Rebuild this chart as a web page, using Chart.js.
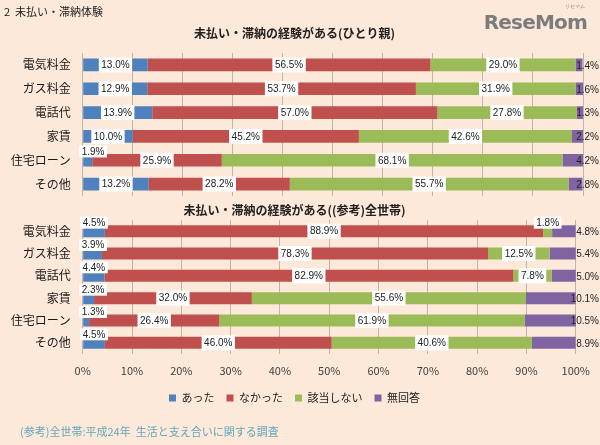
<!DOCTYPE html>
<html>
<head>
<meta charset="utf-8">
<script src="https://cdn.jsdelivr.net/npm/chart.js@4.4.1/dist/chart.umd.min.js"></script>
<style>
  body { margin: 0; background: #fde9d9; }
  #quadro { position: relative; width: 600px; height: 445px; overflow: hidden; font-family: "Noto Sans CJK JP", sans-serif; }
  canvas { position: absolute; left: 0; top: 0; }
  #cabecalho { position: absolute; left: 4px; top: 3px; font-size: 11px; color: #222; }
  #logo { position: absolute; right: 13px; top: 10px; font: bold 20px "DejaVu Sans", sans-serif; color: #7c7c7c; letter-spacing: -0.8px; }
  #logo small { position: absolute; right: 2px; top: -7px; font-size: 5px; font-weight: normal; letter-spacing: 0; }
  #nota { position: absolute; left: 20px; top: 423px; font-size: 11px; color: #63a6bd; }
</style>
</head>
<body>
<div id="quadro">
  <canvas id="graficoTopo" width="600" height="445"></canvas>
  <canvas id="graficoBase" width="600" height="445"></canvas>
  <div id="cabecalho">2&nbsp;&nbsp;未払い・滞納体験</div>
  <div id="logo">ReseMom<small>リセマム</small></div>
  <div id="nota">(参考)全世帯:平成24年&nbsp;&nbsp;生活と支え合いに関する調査</div>
</div>
<script>
const categorias = ['電気料金', 'ガス料金', '電話代', '家賃', '住宅ローン', 'その他'];
const series = ['あった', 'なかった', '該当しない', '無回答'];

// ひとり親
const hitorioyaAtta = [13.0, 12.9, 13.9, 10.0, 1.9, 13.2];
const hitorioyaNakatta = [56.5, 53.7, 57.0, 45.2, 25.9, 28.2];
const hitorioyaGaitou = [29.0, 31.9, 27.8, 42.6, 68.1, 55.7];
const hitorioyaMukaitou = [1.4, 1.6, 1.3, 2.2, 4.2, 2.8];

// (参考)全世帯
const zenAtta = [4.5, 3.9, 4.4, 2.3, 1.3, 4.5];
const zenNakatta = [88.9, 78.3, 82.9, 32.0, 26.4, 46.0];
const zenGaitou = [1.8, 12.5, 7.8, 55.6, 61.9, 40.6];
const zenMukaitou = [4.8, 5.4, 5.0, 10.1, 10.5, 8.9];

const cores = ['#4f81bd', '#c0504d', '#9bbb59', '#8064a2'];

Chart.defaults.font.family = '"Noto Sans CJK JP", sans-serif';
Chart.defaults.color = '#222';

function montarDatasets(listas, barra) {
    return listas.map((dados, i) => ({
        label: series[i],
        data: dados,
        backgroundColor: cores[i],
        borderWidth: 0,
        barPercentage: barra,
        categoryPercentage: 1
    }));
}

// rótulos de valor com caixa branca
const pluginRotulos = {
    id: 'rotulos',
    afterDatasetsDraw(chart) {
        const ctx = chart.ctx;
        const area = chart.chartArea;
        const ultimo = chart.data.datasets.length - 1;
        ctx.save();
        ctx.font = '10px "Liberation Sans", Arial, sans-serif';
        ctx.textBaseline = 'middle';
        chart.data.datasets.forEach((ds, i) => {
            chart.getDatasetMeta(i).data.forEach((bar, j) => {
                const v = ds.data[j];
                const texto = v.toFixed(1) + '%';
                const w = ctx.measureText(texto).width;
                if (i === ultimo) {
                    ctx.textAlign = 'right';
                    ctx.fillStyle = '#222';
                    ctx.fillText(texto, chart.width - 1, bar.y + 1);
                    return;
                }
                let cx = (bar.x + bar.base) / 2;
                let cy = bar.y;
                let alt = 15;
                if (v < 5) {
                    cx = Math.max(cx, area.left - 3 + w / 2 + 2);
                    cy = bar.y - bar.height / 2 - 2.5;
                    alt = 12;
                }
                ctx.fillStyle = '#fff';
                ctx.fillRect(cx - w / 2 - 2.5, cy - alt / 2, w + 5, alt);
                ctx.textAlign = 'center';
                ctx.fillStyle = '#222';
                ctx.fillText(texto, cx, cy + 0.5);
            });
        });
        ctx.restore();
    }
};

function opcoes(titulo, topo, baixo, comEixo) {
    return {
        indexAxis: 'y',
        responsive: false,
        animation: false,
        layout: { padding: { left: 6, right: 17, top: topo, bottom: baixo } },
        plugins: {
            legend: {
                display: comEixo,
                position: 'bottom',
                labels: { boxWidth: 7, boxHeight: 7, padding: 12, font: { size: 11 }, color: '#222' }
            },
            title: {
                display: true,
                text: titulo,
                color: '#222',
                font: { size: 12, weight: 'bold' },
                padding: { top: 0, bottom: comEixo ? 2 : 12.8 }
            },
            tooltip: { enabled: false }
        },
        scales: {
            x: {
                stacked: true,
                min: 0,
                max: 100,
                grid: { color: '#bfb5ac', drawTicks: false },
                border: { display: false },
                ticks: {
                    display: comEixo,
                    stepSize: 10,
                    padding: 10,
                    color: '#404040',
                    font: { size: 11 },
                    callback: v => v + '%'
                },
                afterFit(s) { s.height = comEixo ? 26.5 : 0; }
            },
            y: {
                stacked: true,
                grid: { display: false, drawTicks: false },
                border: { display: false },
                ticks: { padding: 12, color: '#1a1a1a', font: { size: 12 } },
                afterFit(s) { s.width = 76.7; }
            }
        }
    };
}

new Chart(document.getElementById('graficoTopo'), {
    type: 'bar',
    data: {
        labels: categorias,
        datasets: montarDatasets([hitorioyaAtta, hitorioyaNakatta, hitorioyaGaitou, hitorioyaMukaitou], 0.53)
    },
    options: opcoes('未払い・滞納の経験がある(ひとり親)', 25.8, 249, false),
    plugins: [pluginRotulos]
});

new Chart(document.getElementById('graficoBase'), {
    type: 'bar',
    data: {
        labels: categorias,
        datasets: montarDatasets([zenAtta, zenNakatta, zenGaitou, zenMukaitou], 0.54)
    },
    options: opcoes('未払い・滞納の経験がある((参考)全世帯)', 203.6, 31.5, true),
    plugins: [pluginRotulos]
});
</script>
</body>
</html>
